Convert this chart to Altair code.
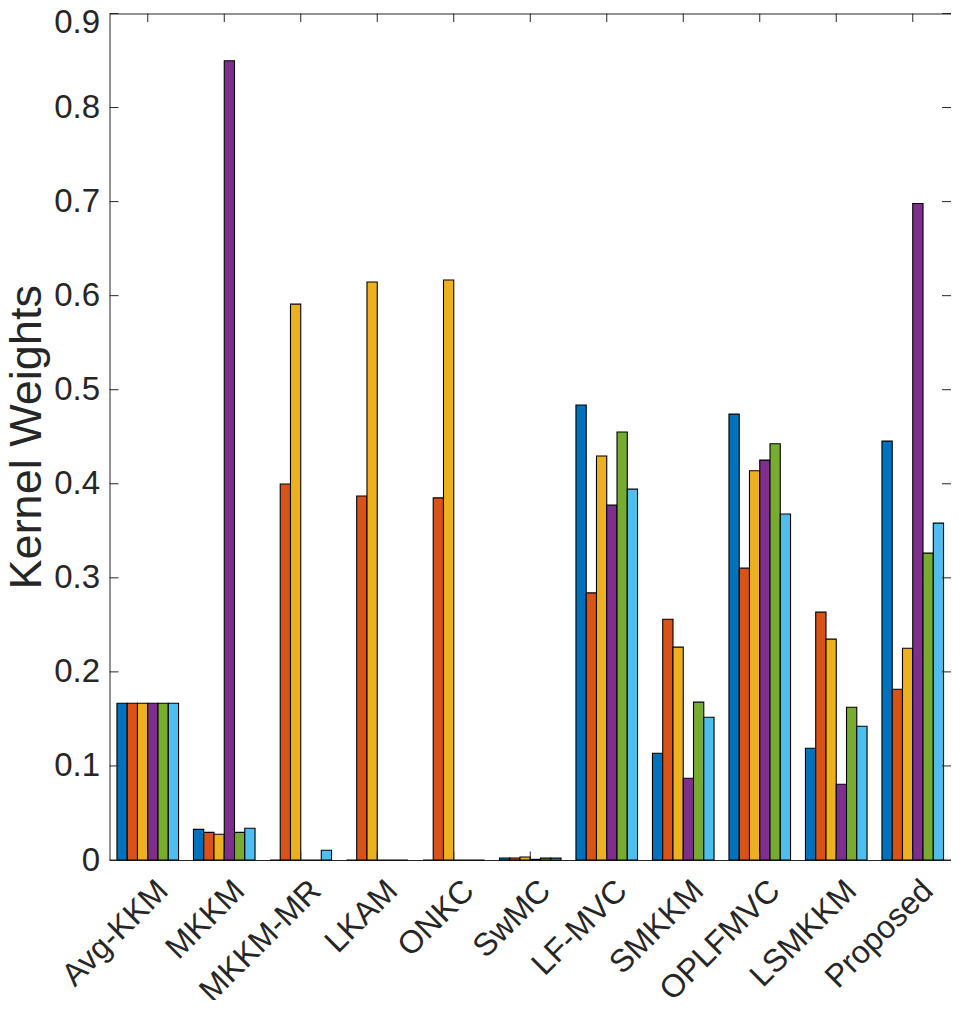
import altair as alt
import pandas as pd

categories = ["Avg-KKM", "MKKM", "MKKM-MR", "LKAM", "ONKC", "SwMC",
              "LF-MVC", "SMKKM", "OPLFMVC", "LSMKKM", "Proposed"]
kernels = ["K1", "K2", "K3", "K4", "K5", "K6"]
colors = ["#0072BD", "#D95319", "#EDB120", "#7E2F8E", "#77AC30", "#4DBEEE"]

k1 = [0.1667, 0.0326, 0.0, 0.0, 0.0, 0.0021, 0.4837, 0.1135, 0.4741, 0.1188, 0.4454]
k2 = [0.1667, 0.0294, 0.3997, 0.3870, 0.3850, 0.0021, 0.2840, 0.2560, 0.3103, 0.2635, 0.1816]
k3 = [0.1667, 0.0273, 0.5910, 0.6146, 0.6167, 0.0032, 0.4295, 0.2263, 0.4138, 0.2348, 0.2252]
k4 = [0.1667, 0.8497, 0.0, 0.0, 0.0, 0.0007, 0.3773, 0.0869, 0.4252, 0.0805, 0.6980]
k5 = [0.1667, 0.0294, 0.0, 0.0, 0.0, 0.0020, 0.4550, 0.1678, 0.4426, 0.1624, 0.3263]
k6 = [0.1667, 0.0337, 0.0103, 0.0, 0.0, 0.0020, 0.3943, 0.1518, 0.3678, 0.1422, 0.3582]

y_ticks = [0, 0.1, 0.2, 0.3, 0.4, 0.5, 0.6, 0.7, 0.8, 0.9]

series = [k1, k2, k3, k4, k5, k6]
rows = []
for kname, vals in zip(kernels, series):
    for c, v in zip(categories, vals):
        rows.append({"category": c, "kernel": kname, "value": v})
df = pd.DataFrame(rows)
df_yt = pd.DataFrame({"t": y_ticks})
df_xt = pd.DataFrame({"category": categories})

W = 841.5
H = 846.5
FONT = "Liberation Sans"
AX = "#262626"

xscale = alt.Scale(domain=categories, paddingInner=0.195, paddingOuter=0.0975)
yscale = alt.Scale(domain=[0, 0.9], nice=False, zero=True)

bars = alt.Chart(df).mark_bar(stroke="black", strokeWidth=1.1).encode(
    x=alt.X("category:N", sort=categories, scale=xscale,
            axis=alt.Axis(title=None, labelAngle=-45, labelAlign="right",
                          labelBaseline="middle", labelOffset=15, labelPadding=25,
                          labelFontSize=32, labelFont=FONT, labelColor=AX,
                          ticks=False, domain=False, labelOverlap=False,
                          labelLimit=400, labelBound=False)),
    xOffset=alt.XOffset("kernel:N", sort=kernels,
                        scale=alt.Scale(paddingInner=0, paddingOuter=0)),
    y=alt.Y("value:Q", scale=yscale,
            axis=alt.Axis(values=y_ticks, format=".1~f", title="Kernel Weights",
                          labelFontSize=33, labelFont=FONT, labelColor=AX,
                          labelPadding=10, ticks=False, domain=False, grid=False,
                          labelOffset={"condition": {"test": "datum.value >= 0.85", "value": 9},
                                       "value": 0},
                          titleFontSize=45, titleFont=FONT, titleFontWeight="normal",
                          titleColor=AX, titleX=-69, titleY=H / 2,
                          titleBaseline="alphabetic", titleAlign="center")),
    color=alt.Color("kernel:N", sort=kernels,
                    scale=alt.Scale(domain=kernels, range=colors), legend=None),
)

ytl = alt.Chart(df_yt).mark_rule(color=AX, strokeWidth=1).encode(
    y=alt.Y("t:Q", scale=yscale, axis=None), x=alt.value(0), x2=alt.value(9))
ytr = alt.Chart(df_yt).mark_rule(color=AX, strokeWidth=1).encode(
    y=alt.Y("t:Q", scale=yscale, axis=None), x=alt.value(W - 9), x2=alt.value(W))
xtb = alt.Chart(df_xt).mark_rule(color=AX, strokeWidth=1).encode(
    x=alt.X("category:N", sort=categories, scale=xscale, axis=None),
    y=alt.value(H - 8.5), y2=alt.value(H))
xtt = alt.Chart(df_xt).mark_rule(color=AX, strokeWidth=1).encode(
    x=alt.X("category:N", sort=categories, scale=xscale, axis=None),
    y=alt.value(0), y2=alt.value(8.5))

chart = alt.layer(bars, ytl, ytr, xtb, xtt).resolve_axis(
    x="independent", y="independent"
).properties(
    width=W, height=H,
    background="white",
    autosize=alt.AutoSizeParams(type="none"),
    padding={"left": 101.5, "top": 5.5, "right": 0, "bottom": 140},
).configure_view(stroke=AX, strokeWidth=1)

chart.save("out.html", embed_options={"renderer": "svg", "actions": False})
